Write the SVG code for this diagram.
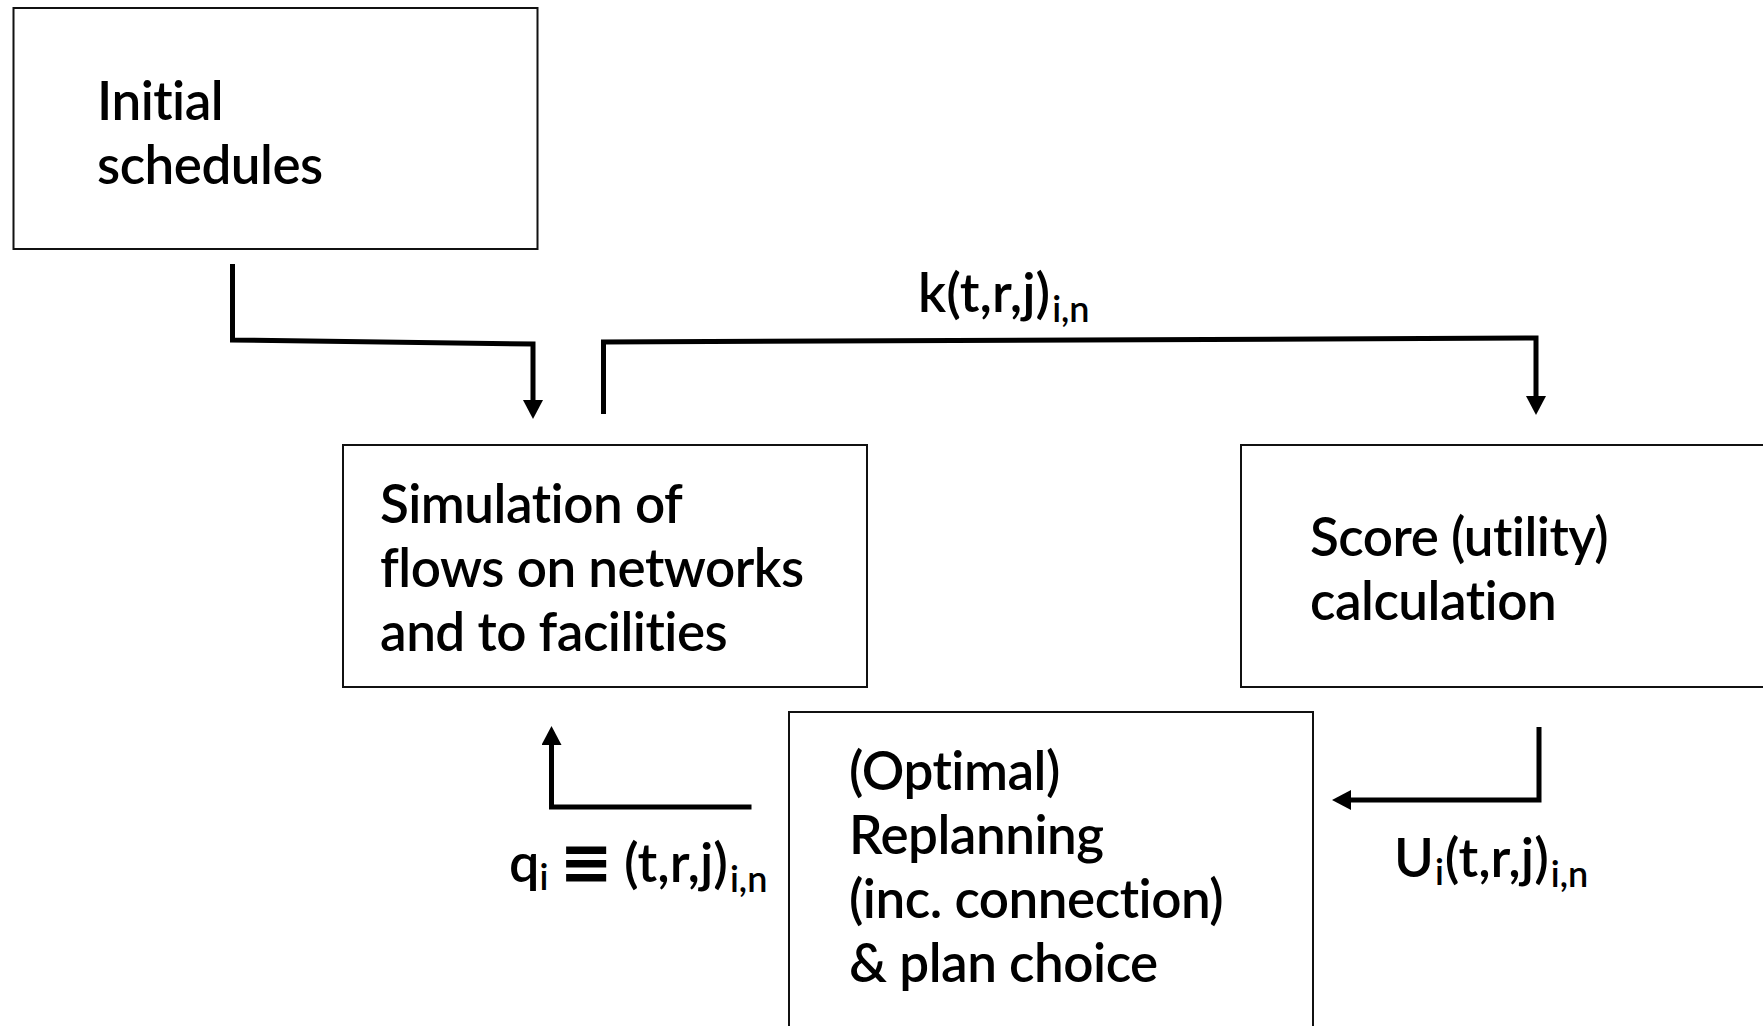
<svg xmlns="http://www.w3.org/2000/svg" width="1763" height="1026" viewBox="0 0 1763 1026">
  <style>
    .box { fill: #ffffff; stroke: #111111; stroke-width: 2; }
    .lbl { font-family: Lato, "Open Sans", "DejaVu Sans", sans-serif; font-size: 53px; font-weight: 600; letter-spacing: -0.5px; fill: #000000; font-variant-ligatures: none; font-feature-settings: "liga" 0, "clig" 0, "dlig" 0; }
    .math { letter-spacing: 0; font-size: 54px; }
    .sub { font-size: 36px; }
    .sym { font-family: "DejaVu Sans", sans-serif; font-weight: 700; font-size: 64px; }
    .wire { fill: none; stroke: #000000; stroke-width: 5; stroke-linejoin: miter; stroke-linecap: butt; }
  </style>
  <defs>
    <marker id="arrow" markerUnits="userSpaceOnUse" markerWidth="20" markerHeight="20" viewBox="0 0 20 20" refX="0" refY="10" orient="auto">
      <path d="M0,0 L19,10 L0,20 Z" fill="#000000"/>
    </marker>
  </defs>
  <rect width="1763" height="1026" fill="#ffffff"/>

  <g id="node-initial">
    <rect class="box" x="13.5" y="8" width="524" height="241"/>
    <text class="lbl" x="97" y="120">Initial</text>
    <text class="lbl" x="97" y="184">schedules</text>
  </g>

  <g id="node-simulation">
    <rect class="box" x="343" y="445" width="524" height="242"/>
    <text class="lbl" x="380" y="523">Simulation of</text>
    <text class="lbl" x="380" y="587">flows on networks</text>
    <text class="lbl" x="380" y="651">and to facilities</text>
  </g>

  <g id="node-score">
    <rect class="box" x="1241" y="445" width="540" height="242"/>
    <text class="lbl" x="1310" y="556">Score (utility)</text>
    <text class="lbl" x="1310" y="620">calculation</text>
  </g>

  <g id="node-replanning">
    <rect class="box" x="789" y="712" width="524" height="330"/>
    <text class="lbl" x="849" y="790">(Optimal)</text>
    <text class="lbl" x="849" y="854">Replanning</text>
    <text class="lbl" x="849" y="918">(inc. connection)</text>
    <text class="lbl" x="849" y="982">&amp; plan choice</text>
  </g>

  <g id="connectors">
    <path class="wire" d="M232.5,264 V340 L533,344 V400" marker-end="url(#arrow)"/>
    <path class="wire" d="M603.5,414 V342 L1536,338 V396" marker-end="url(#arrow)"/>
    <path class="wire" d="M751.5,807 H551.5 V745" marker-end="url(#arrow)"/>
    <path class="wire" d="M1539,727 V800 H1351" marker-end="url(#arrow)"/>

    <text class="lbl math" x="918" y="312">k(t,r,j)<tspan class="sub" dx="2" dy="10">i,n</tspan></text>
    <text class="lbl math" x="509" y="882">q<tspan class="sub" dy="8">i</tspan></text>
    <text class="lbl math sym" x="586" y="884" text-anchor="middle">≡</text>
    <text class="lbl math" x="624" y="882">(t,r,j)<tspan class="sub" dx="2" dy="10">i,n</tspan></text>
    <text class="lbl math" x="1394" y="877">U<tspan class="sub" dx="1" dy="8">i</tspan><tspan dx="1" dy="-8">(t,r,j)</tspan><tspan class="sub" dx="2" dy="10">i,n</tspan></text>
  </g>
</svg>
